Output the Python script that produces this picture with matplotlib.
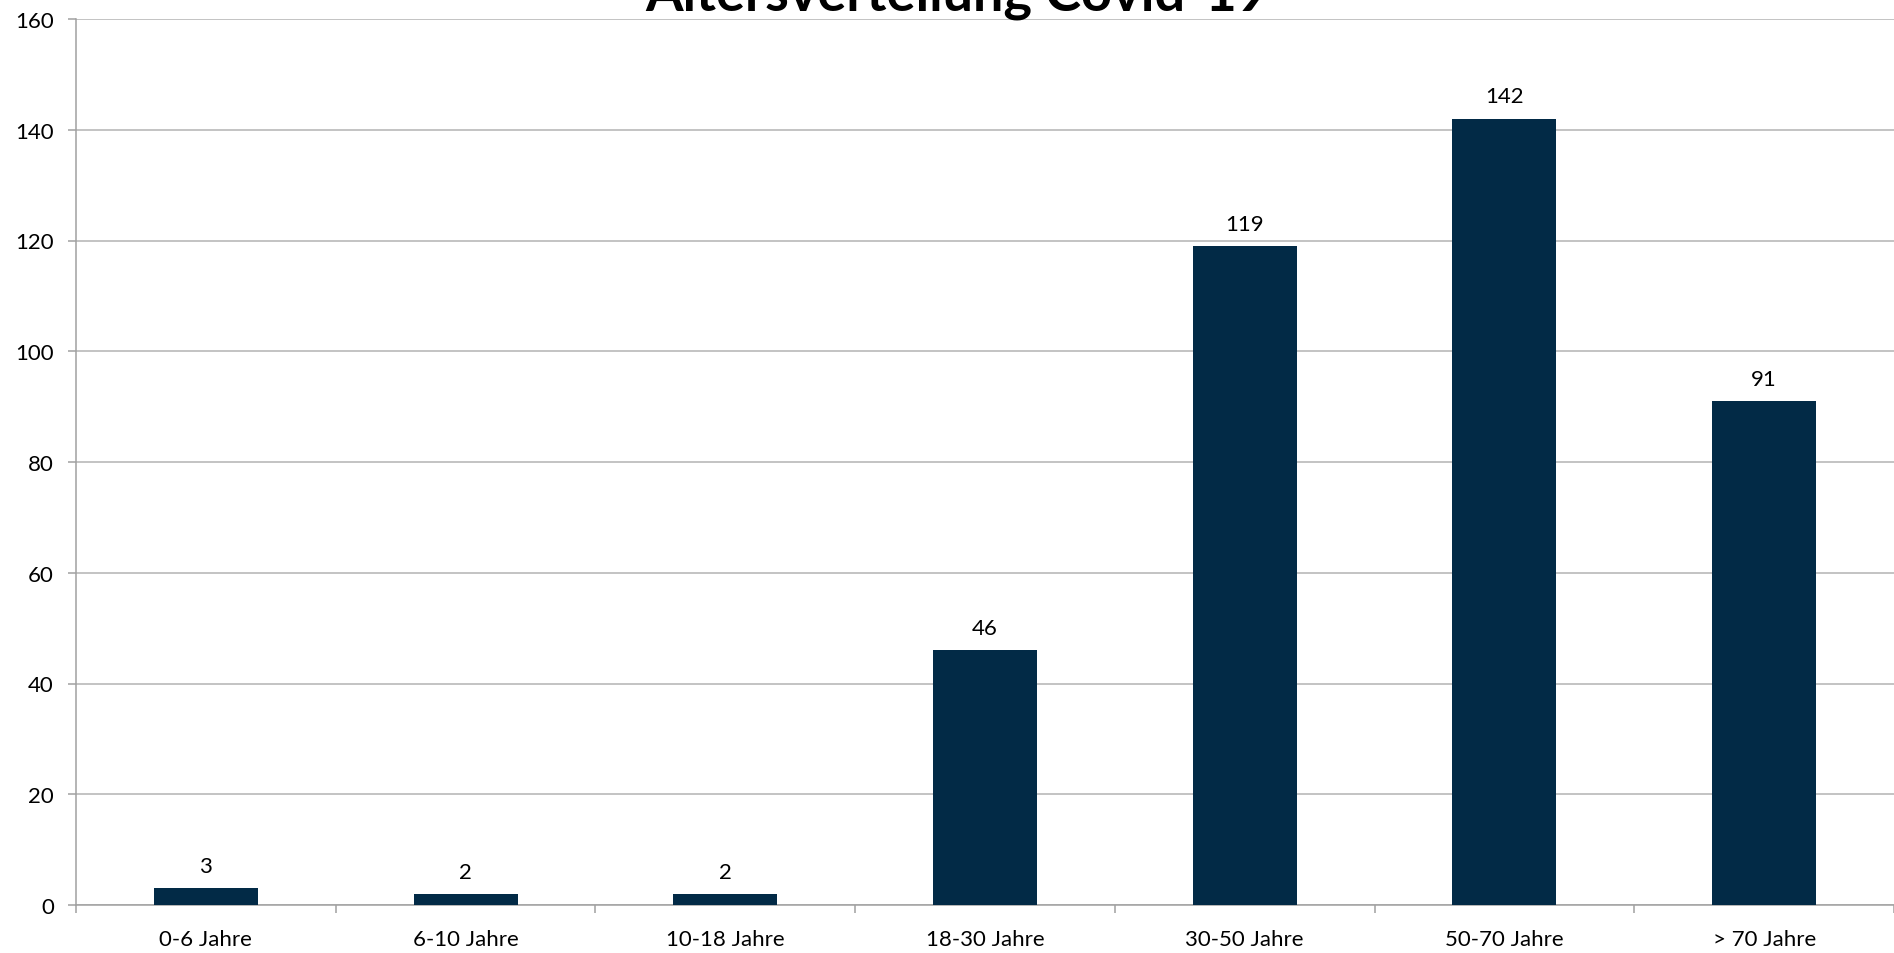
import numpy as np
import matplotlib
matplotlib.use("Agg")
import matplotlib.pyplot as plt

# Altersverteilung der Fälle
categories = ["0-6 Jahre", "6-10 Jahre", "10-18 Jahre", "18-30 Jahre",
              "30-50 Jahre", "50-70 Jahre", "> 70 Jahre"]
counts = [3, 2, 2, 46, 119, 142, 91]
yticks = [0, 20, 40, 60, 80, 100, 120, 140, 160]

plt.rcParams['font.family'] = ['Lato', 'DejaVu Sans']

fig = plt.figure(figsize=(18.94, 9.54), dpi=100)
ax = fig.add_axes([76/1894, 48/954, 1 - 76/1894, 886/954])

x = np.arange(len(categories))
bars = ax.bar(x, counts, width=0.4, color='#022a46', zorder=3)

for xi, v in zip(x, counts):
    ax.annotate(str(v), (xi, v), xytext=(0, 16), textcoords='offset points',
                ha='center', va='center', fontsize=16, color='black')

ax.set_xlim(-0.5, len(categories) - 0.5)
ax.set_ylim(0, 160)
ax.set_yticks(yticks)
ax.yaxis.grid(True, color='#b3b3b3', linewidth=1.1, zorder=0)

ax.set_xticks(x)
ax.set_xticklabels(categories)
ax.set_xticks(np.arange(-0.5, len(categories)), minor=True)
ax.tick_params(axis='x', which='major', length=0, pad=17, labelsize=16)
ax.tick_params(axis='x', which='minor', length=6, width=1.1, color='#a0a0a0', direction='out')
ax.tick_params(axis='y', length=6, width=1.1, color='#a0a0a0', pad=10, labelsize=16)

for s in ['top', 'right']:
    ax.spines[s].set_visible(False)
for s in ['left', 'bottom']:
    ax.spines[s].set_color('#a0a0a0')
    ax.spines[s].set_linewidth(1.1)

fig.text(957/1894, 1 - 10/954, "Altersverteilung Covid-19", ha='center',
         va='baseline', fontsize=39, fontweight='bold')

fig.savefig("out.png", dpi=100)
